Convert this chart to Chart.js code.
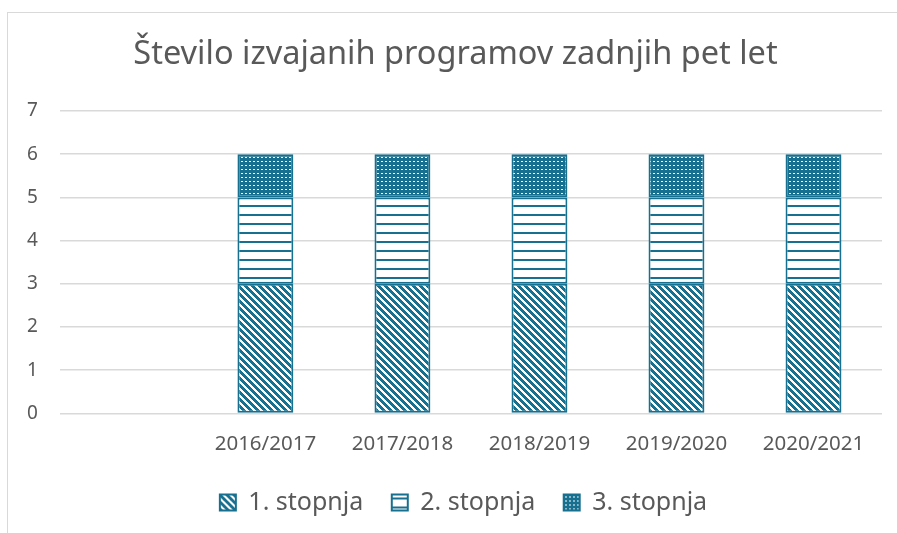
<!DOCTYPE html>
<html>
<head>
<meta charset="utf-8">
<script src="https://cdn.jsdelivr.net/npm/chart.js@4"></script>
<style>
  html, body { margin: 0; padding: 0; background: #fff; }
  #wrap { position: relative; width: 897px; height: 533px; overflow: hidden; }
  #frame { position: absolute; left: 7px; top: 12px; width: 1000px; height: 600px; border: 1px solid #d9d9d9; box-sizing: border-box; }
  canvas { position: absolute; left: 0; top: 0; }
</style>
</head>
<body>
<div id="wrap">
  <div id="frame"></div>
  <canvas id="c" width="897" height="533"></canvas>
</div>
<script>
const categories = ['', '2016/2017', '2017/2018', '2018/2019', '2019/2020', '2020/2021'];
const seriesNames = ['1. stopnja', '2. stopnja', '3. stopnja'];
const stopnja1 = [null, 3, 3, 3, 3, 3];
const stopnja2 = [null, 2, 2, 2, 2, 2];
const stopnja3 = [null, 1, 1, 1, 1, 1];
const yTicks = [0, 1, 2, 3, 4, 5, 6, 7];
const titleText = 'Število izvajanih programov zadnjih pet let';

const BLUE = '#17708f';

function makeTile(w, h, fn) {
  const c = document.createElement('canvas');
  c.width = w; c.height = h;
  const x = c.getContext('2d');
  x.fillStyle = '#ffffff';
  x.fillRect(0, 0, w, h);
  x.fillStyle = BLUE;
  for (let i = 0; i < w; i++) for (let j = 0; j < h; j++) if (fn(i, j)) x.fillRect(i, j, 1, 1);
  return x.createPattern(c, 'repeat');
}
const patDiag = makeTile(7, 7, (i, j) => ((i - j + 14) % 7) < 4);
const patHoriz = makeTile(8, 9, (i, j) => j >= 7);
const patDots = makeTile(4, 4, (i, j) => !((i === 1 || i === 2) && j === 1));

// shift a layout box (title / legend) by a small offset when drawn
function shiftBox(box, dx, dy) {
  if (!box || box._shifted) return;
  box._shifted = true;
  const orig = box.draw.bind(box);
  box.draw = function (area) {
    const c = this.ctx || this.chart.ctx;
    c.save(); c.translate(dx, dy); orig(area); c.restore();
  };
}
const boxShift = {
  id: 'boxShift',
  beforeDraw(chart) {
    shiftBox(chart.titleBlock, 12, 0);
    shiftBox(chart.legend, 20, -4.5);
  }
};

const ctx = document.getElementById('c').getContext('2d');
new Chart(ctx, {
  type: 'bar',
  data: {
    labels: categories,
    datasets: [
      { label: seriesNames[0], data: stopnja1, backgroundColor: patDiag },
      { label: seriesNames[1], data: stopnja2, backgroundColor: patHoriz },
      { label: seriesNames[2], data: stopnja3, backgroundColor: patDots }
    ].map(d => Object.assign(d, {
      borderColor: BLUE, borderWidth: 2, borderSkipped: false,
      categoryPercentage: 0.8, barPercentage: 0.51
    }))
  },
  plugins: [boxShift],
  options: {
    responsive: false,
    animation: false,
    layout: { padding: { left: 5, right: 15, top: 20, bottom: 3.5 } },
    plugins: {
      title: {
        display: true, text: titleText, color: '#595959',
        font: { family: 'Noto Sans', size: 32.5, weight: 'normal' },
        padding: { top: 15.5, bottom: 36.5 }
      },
      legend: {
        position: 'bottom',
        labels: {
          color: '#595959',
          font: { family: 'Noto Sans', size: 25 },
          boxWidth: 16, boxHeight: 16, padding: 28.5
        }
      },
      tooltip: { enabled: false }
    },
    scales: {
      x: {
        stacked: true,
        grid: { display: false },
        border: { display: false },
        ticks: { color: '#595959', font: { family: 'Noto Sans', size: 20.5 }, padding: 10, maxRotation: 0 }
      },
      y: {
        stacked: true,
        min: 0, max: 7,
        afterBuildTicks: (s) => { s.ticks = yTicks.map(v => ({ value: v })); },
        grid: { color: '#d9d9d9', lineWidth: 1.5, drawTicks: false },
        border: { display: false },
        ticks: { color: '#595959', font: { family: 'Noto Sans', size: 19 }, padding: 22 }
      }
    }
  }
});
</script>
</body>
</html>
